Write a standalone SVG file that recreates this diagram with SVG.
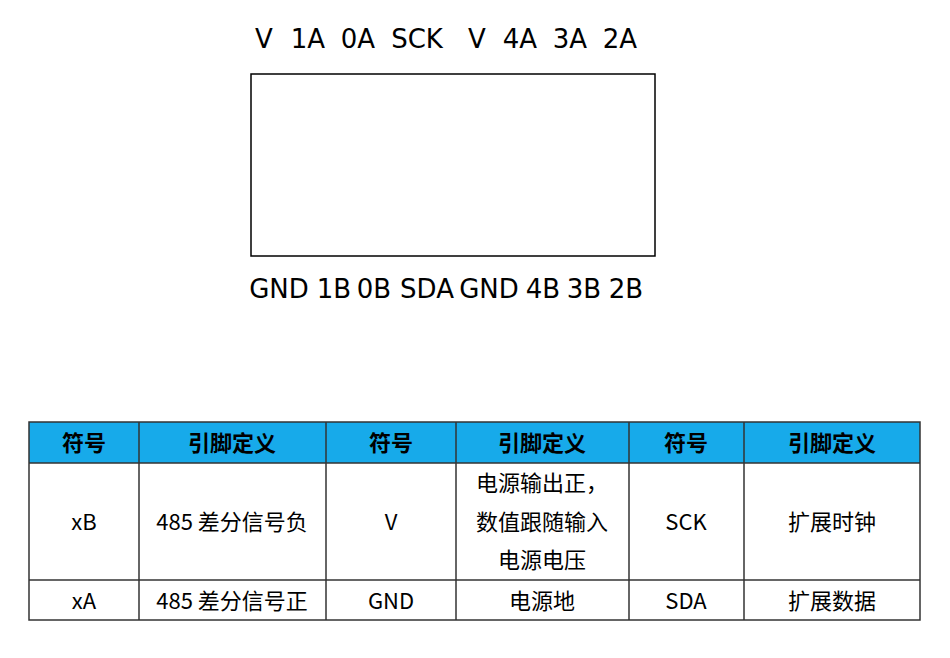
<svg xmlns="http://www.w3.org/2000/svg" width="950" height="658" viewBox="0 0 950 658">
<style>
.pin{font-family:"DejaVu Sans",Verdana,sans-serif;font-size:26px;fill:#000;text-anchor:middle}
.th{font-family:"Noto Sans CJK SC",sans-serif;font-size:22px;font-weight:bold;fill:#000;text-anchor:middle}
.td{font-family:"Noto Sans CJK SC",sans-serif;font-size:22px;fill:#000;text-anchor:middle}
.grid{stroke:#333;stroke-width:1.5;fill:none}
</style>
<rect width="950" height="658" fill="#fff"/>
<g id="chip">
<rect x="251" y="74" width="404" height="182" fill="#fff" stroke="#000" stroke-width="1.5"/>
</g>
<g id="top-pins">
<text class="pin" x="264" y="48">V</text>
<text class="pin" x="308" y="48">1A</text>
<text class="pin" x="358" y="48">0A</text>
<text class="pin" x="417" y="48">SCK</text>
<text class="pin" x="477" y="48">V</text>
<text class="pin" x="520" y="48">4A</text>
<text class="pin" x="570" y="48">3A</text>
<text class="pin" x="620" y="48">2A</text>
</g>
<g id="bottom-pins">
<text class="pin" x="279" y="298">GND</text>
<text class="pin" x="334" y="298">1B</text>
<text class="pin" x="374" y="298">0B</text>
<text class="pin" x="427" y="298">SDA</text>
<text class="pin" x="489" y="298">GND</text>
<text class="pin" x="543" y="298">4B</text>
<text class="pin" x="584" y="298">3B</text>
<text class="pin" x="626" y="298">2B</text>
</g>
<g id="table">
<rect x="29" y="422" width="891" height="41" fill="#17aaea"/>
<rect class="grid" x="29" y="422" width="891" height="198"/>
<line class="grid" x1="29" y1="463" x2="920" y2="463"/>
<line class="grid" x1="29" y1="580" x2="920" y2="580"/>
<line class="grid" x1="139" y1="422" x2="139" y2="620"/>
<line class="grid" x1="326" y1="422" x2="326" y2="620"/>
<line class="grid" x1="456" y1="422" x2="456" y2="620"/>
<line class="grid" x1="629" y1="422" x2="629" y2="620"/>
<line class="grid" x1="744" y1="422" x2="744" y2="620"/>
<text class="th" x="84" y="451">符号</text>
<text class="th" x="232" y="451">引脚定义</text>
<text class="th" x="391" y="451">符号</text>
<text class="th" x="542" y="451">引脚定义</text>
<text class="th" x="686" y="451">符号</text>
<text class="th" x="832" y="451">引脚定义</text>
<text class="td" x="84" y="530">xB</text>
<text class="td" x="232" y="530">485 差分信号负</text>
<text class="td" x="391" y="530">V</text>
<text class="td" x="542" y="491">电源输出正，</text>
<text class="td" x="542" y="530">数值跟随输入</text>
<text class="td" x="542" y="568">电源电压</text>
<text class="td" x="686" y="530">SCK</text>
<text class="td" x="832" y="530">扩展时钟</text>
<text class="td" x="84" y="609">xA</text>
<text class="td" x="232" y="609">485 差分信号正</text>
<text class="td" x="391" y="609">GND</text>
<text class="td" x="542" y="609">电源地</text>
<text class="td" x="686" y="609">SDA</text>
<text class="td" x="832" y="609">扩展数据</text>
</g>
</svg>
